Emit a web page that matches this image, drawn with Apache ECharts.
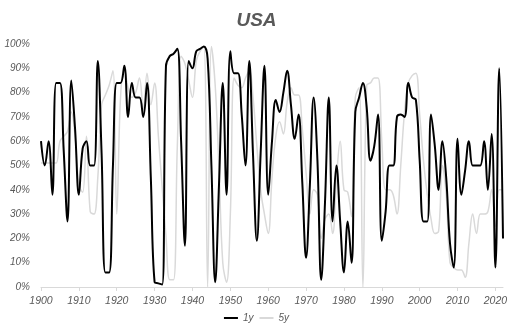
<!DOCTYPE html>
<html>
<head>
<meta charset="utf-8">
<script src="https://cdn.jsdelivr.net/npm/echarts@6/dist/echarts.min.js"></script>
<style>
  html, body { margin: 0; padding: 0; background: #fff; }
  #chart { width: 513px; height: 334px; }
</style>
</head>
<body>
<div id="chart"></div>
<script>
var years = [];
for (var y = 1900; y <= 2022; y++) years.push(String(y));

// 1-year values, %
var y1 = [
  60, 50, 60, 38, 84, 84, 56, 27, 85, 65,
  38, 57, 60, 50, 50, 93, 55, 6, 6, 50,
  84, 84, 91, 70, 84, 78, 78, 70, 84, 45,
  2, 1.5, 1, 91, 95, 96, 98, 60, 17, 93,
  90, 97, 98, 99, 94, 50, 2, 42, 84, 38,
  97, 88, 88, 71, 50, 93, 54, 19, 55, 91,
  38, 60, 77, 72, 80, 89, 75, 61, 71, 43,
  12, 42, 78, 52, 3, 35, 78, 27, 50, 27,
  6, 27, 10, 72, 78, 84, 74, 52, 58, 71,
  19, 31, 50, 50, 70, 71, 70, 84, 78, 77,
  52, 27, 27, 71, 58, 40, 60, 45, 18, 8,
  61, 38, 48, 60, 50, 50, 50, 60, 40, 63,
  8, 90, 20
];

// 5-year values, %
var y5 = [
  51, 51, 51, 51, 51, 60, 62, 64, 72, 62,
  42, 39, 62, 31, 30, 45, 75, 79, 83, 89,
  30, 78, 90, 82, 78, 80, 86, 73, 88, 75,
  84, 62, 41, 21, 3, 3, 58, 95, 92, 85,
  78, 93, 97, 99, 0, 99, 83, 49, 10, 2,
  30, 86, 83, 82, 86, 89, 78, 58, 40, 30,
  22, 45, 62, 68, 63, 76, 82, 79, 79, 65,
  47, 30, 40, 38, 20, 28, 30, 22, 44, 60,
  40, 39, 29, 78, 82, 0, 83, 84, 86, 86,
  60, 40, 40, 38, 30, 50, 72, 84, 87, 88,
  71, 52, 38, 28, 22, 23, 50, 38, 10, 8,
  7, 7, 4, 18, 30, 22, 30, 30, 31, 40,
  25, 40, 40
];

var labelFont = 'Liberation Sans';
var chart = echarts.init(document.getElementById('chart'));
chart.setOption({
  animation: false,
  backgroundColor: '#fff',
  title: {
    text: 'USA',
    left: 'center',
    top: 6,
    textStyle: {
      color: '#595959',
      fontSize: 19,
      fontWeight: 'bold',
      fontStyle: 'italic',
      fontFamily: labelFont
    }
  },
  legend: {
    bottom: 6,
    left: 'center',
    itemWidth: 14,
    itemHeight: 2,
    itemGap: 6,
    icon: 'rect',
    textStyle: {
      color: '#595959',
      fontSize: 10,
      fontStyle: 'italic',
      fontFamily: labelFont
    },
    data: ['1y', '5y']
  },
  grid: { left: 41, right: 10, top: 44, bottom: 47 },
  xAxis: {
    type: 'category',
    data: years,
    boundaryGap: false,
    axisLine: { lineStyle: { color: '#d9d9d9' } },
    axisTick: { interval: 9, length: 4, lineStyle: { color: '#d9d9d9' } },
    axisLabel: {
      interval: 9,
      margin: 9,
      color: '#595959',
      fontSize: 10.5,
      fontStyle: 'italic',
      fontFamily: labelFont
    },
    splitLine: { show: false }
  },
  yAxis: {
    type: 'value',
    min: 0,
    max: 100,
    interval: 10,
    axisLine: { show: false },
    axisTick: { show: false },
    splitLine: { show: false },
    axisLabel: {
      formatter: '{value}%',
      margin: 11,
      color: '#595959',
      fontSize: 10,
      fontStyle: 'italic',
      fontFamily: labelFont
    }
  },
  series: [
    {
      name: '1y',
      type: 'line',
      data: y1,
      smooth: 0.4,
      showSymbol: false,
      z: 3,
      itemStyle: { color: '#000' },
      lineStyle: { color: '#000', width: 2 }
    },
    {
      name: '5y',
      type: 'line',
      data: y5,
      smooth: 0.4,
      showSymbol: false,
      z: 2,
      itemStyle: { color: '#d9d9d9' },
      lineStyle: { color: '#d9d9d9', width: 1.5 }
    }
  ]
});
</script>
</body>
</html>
